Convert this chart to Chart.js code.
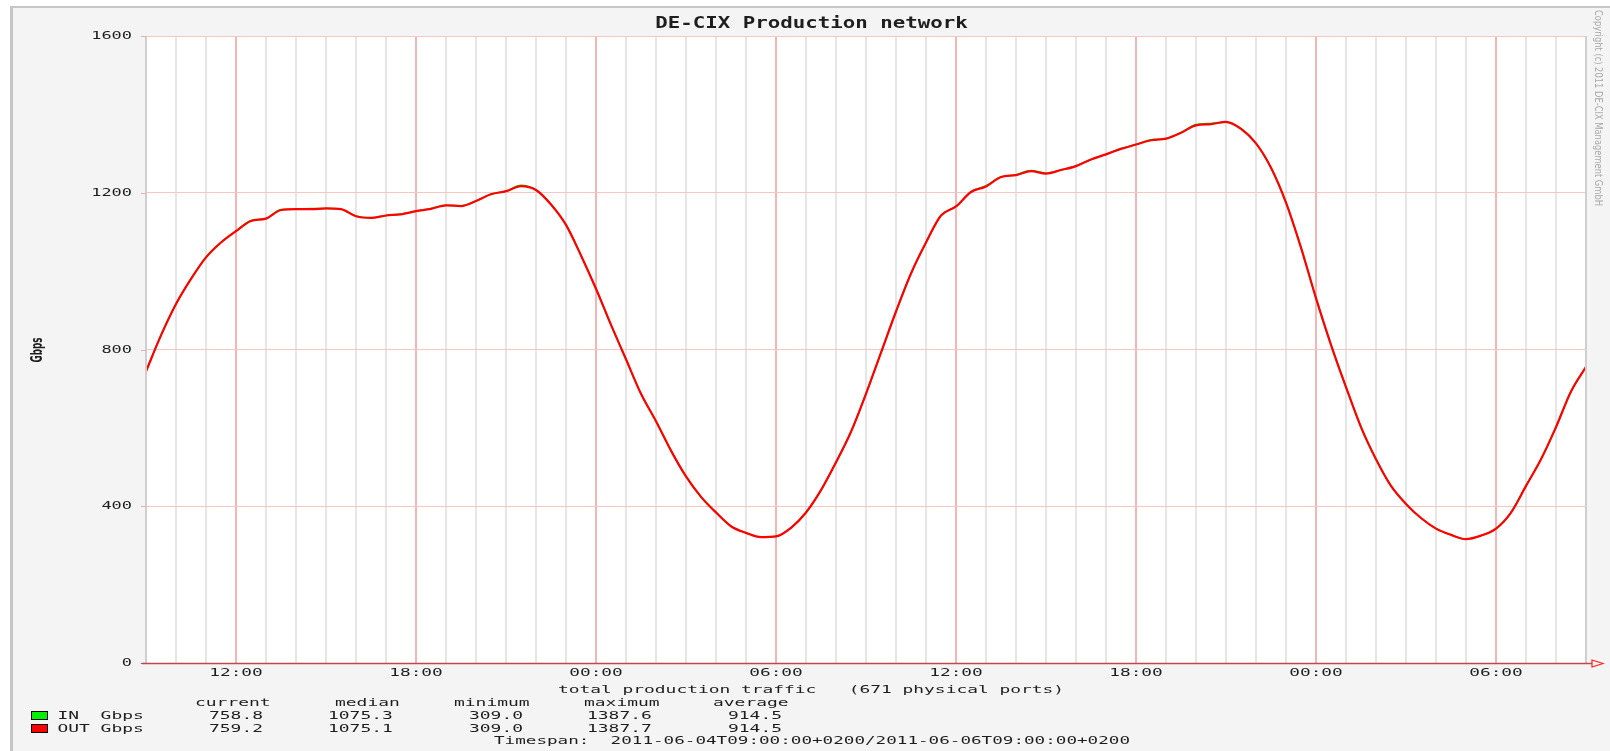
<!DOCTYPE html>
<html>
<head>
<meta charset="utf-8">
<script src="https://cdn.jsdelivr.net/npm/chart.js@4.4.1/dist/chart.umd.min.js"></script>
<style>
  html, body { margin: 0; padding: 0; background: #fff; }
  canvas { display: block; }
</style>
</head>
<body>
<canvas id="decix" width="1610" height="751"></canvas>
<script>
// DE-CIX total traffic, 2011-06-04 09:00 -> 2011-06-06 09:00, one sample every 30 min
const stepHours = 0.5;

const outGbps = [
  744, 836, 916, 980, 1035, 1073, 1102, 1128, 1134, 1156,
  1158, 1158, 1160, 1158, 1140, 1136, 1142, 1145, 1153, 1159,
  1168, 1166, 1179, 1196, 1204, 1217, 1207, 1170, 1118, 1040,
  955, 863, 775, 687, 617, 542, 476, 424, 384, 349,
  332, 321, 323, 345, 384, 441, 512, 590, 687, 792,
  897, 994, 1073, 1142, 1165, 1202, 1216, 1240, 1245, 1255,
  1249, 1258, 1268, 1285, 1298, 1312, 1323, 1334, 1338, 1353,
  1372, 1375, 1381, 1363, 1326, 1264, 1175, 1060, 931, 812,
  704, 602, 520, 452, 406, 370, 343, 327, 316, 325,
  343, 384, 452, 520, 602, 693, 756
];

const inGbps = [
  744, 837, 916, 980, 1036, 1073, 1102, 1129, 1134, 1157,
  1158, 1160, 1160, 1158, 1141, 1136, 1142, 1146, 1153, 1160,
  1168, 1167, 1179, 1197, 1204, 1219, 1207, 1171, 1118, 1040,
  955, 863, 775, 687, 617, 542, 476, 424, 385, 349,
  332, 321, 323, 345, 384, 441, 512, 590, 687, 792,
  897, 994, 1073, 1142, 1165, 1203, 1218, 1240, 1246, 1257,
  1250, 1258, 1269, 1285, 1298, 1313, 1323, 1335, 1338, 1354,
  1374, 1377, 1380, 1364, 1326, 1264, 1175, 1060, 931, 812,
  704, 602, 520, 452, 406, 370, 343, 327, 316, 325,
  343, 384, 452, 520, 602, 693, 755
];

// tick labels (hours after 09:00 on 06-04)
const xTickHours = [3, 9, 15, 21, 27, 33, 39, 45];
const xTickLabels = ['12:00', '18:00', '00:00', '06:00', '12:00', '18:00', '00:00', '06:00'];
const yTicks = [0, 400, 800, 1200, 1600];

// summary table under the chart
const statHeads = ['current', 'median', 'minimum', 'maximum', 'average'];
const statIn = ['758.8', '1075.3', '309.0', '1387.6', '914.5'];
const statOut = ['759.2', '1075.1', '309.0', '1387.7', '914.5'];

const sampleHours = outGbps.map((_, i) => i * stepHours);

// wide monospaced text like the old java graph renderer
function wideText(ctx, text, x, y, size, charW, opts) {
  opts = opts || {};
  ctx.save();
  ctx.font = (opts.bold ? 'bold ' : '') + size + 'px "DejaVu Sans Mono", monospace';
  const nat = ctx.measureText(text).width;
  const sx = (charW * text.length) / nat;
  ctx.translate(x, y);
  ctx.scale(sx, 1);
  ctx.fillStyle = opts.color || '#1e1e1e';
  ctx.textAlign = opts.align || 'left';
  ctx.textBaseline = 'middle';
  ctx.fillText(text, 0, 0);
  ctx.restore();
}

// rotated, squeezed sans text (axis title, copyright)
function sideText(ctx, text, x, y, angle, font, len, color, align) {
  ctx.save();
  ctx.translate(x, y);
  ctx.rotate(angle);
  ctx.font = font;
  const w = ctx.measureText(text).width;
  ctx.scale(len / w, 1);
  ctx.fillStyle = color;
  ctx.textAlign = align;
  ctx.textBaseline = 'middle';
  ctx.fillText(text, 0, 0);
  ctx.restore();
}

const decor = {
  id: 'decor',
  beforeDraw(chart) {
    const ctx = chart.ctx;
    const a = chart.chartArea;
    ctx.save();
    ctx.fillStyle = '#ffffff';
    ctx.fillRect(0, 0, chart.width, chart.height);
    ctx.fillStyle = '#f4f4f4';
    ctx.fillRect(10, 6, chart.width - 10, chart.height - 6);
    ctx.fillStyle = '#c6c6c6';
    ctx.fillRect(10, 6, chart.width - 10, 2);
    ctx.fillRect(10, 6, 3, chart.height - 6);
    ctx.fillStyle = '#ffffff';
    ctx.fillRect(a.left, a.top, a.right - a.left, a.bottom - a.top);
    ctx.restore();
  },
  afterDraw(chart) {
    const ctx = chart.ctx;
    const a = chart.chartArea;
    const xs = chart.scales.x, ys = chart.scales.y;
    ctx.save();

    // plot frame (left / right)
    ctx.strokeStyle = '#cfcfcf';
    ctx.lineWidth = 2;
    ctx.beginPath();
    ctx.moveTo(a.left, a.top); ctx.lineTo(a.left, a.bottom);
    ctx.moveTo(a.right, a.top); ctx.lineTo(a.right, a.bottom);
    ctx.stroke();

    // y ticks + labels
    yTicks.forEach(v => {
      const y = Math.round(ys.getPixelForValue(v)) + 0.5;
      ctx.strokeStyle = v === 0 ? '#b85050' : '#f2a8a8';
      ctx.lineWidth = 1;
      ctx.beginPath();
      ctx.moveTo(a.left - 5, y); ctx.lineTo(a.left, y);
      ctx.stroke();
      wideText(ctx, String(v), a.left - 14, y, 10, 10.2, { align: 'right' });
    });

    // x axis line with arrow
    const yb = Math.round(a.bottom) + 0.5;
    ctx.strokeStyle = '#c04848';
    ctx.lineWidth = 1.5;
    ctx.beginPath();
    ctx.moveTo(a.left - 4, yb); ctx.lineTo(a.right + 6, yb);
    ctx.stroke();
    ctx.strokeStyle = '#ff2020';
    ctx.lineWidth = 1.2;
    ctx.beginPath();
    ctx.moveTo(a.right + 6, yb - 3.5);
    ctx.lineTo(a.right + 17, yb);
    ctx.lineTo(a.right + 6, yb + 3.5);
    ctx.closePath();
    ctx.stroke();

    // x tick labels
    xTickHours.forEach((h, i) => {
      wideText(ctx, xTickLabels[i], xs.getPixelForValue(h), 673, 10.5, 10.7, { align: 'center' });
    });

    // title
    wideText(ctx, 'DE-CIX Production network', 811.5, 24, 15, 12.5, { align: 'center', bold: true });

    // y axis title
    sideText(ctx, 'Gbps', 38, 350, -Math.PI / 2, 'bold 16px "DejaVu Sans", sans-serif', 25, '#1e1e1e', 'center');

    // copyright, vertical on the right
    sideText(ctx, 'Copyright (c) 2011 DE-CIX Management GmbH', 1597.5, 10, Math.PI / 2,
      '11px "DejaVu Sans", sans-serif', 196, '#a8a8a8', 'left');

    // subtitle + stats table
    wideText(ctx, 'total production traffic   (671 physical ports)', 811, 690, 10.5, 10.77, { align: 'center' });

    const headX = [195, 335, 454, 584, 713];
    statHeads.forEach((t, i) => wideText(ctx, t, headX[i], 703, 10.5, 10.8));

    const valX = [209, 328, 469, 587, 728];
    [[statIn, 716, 'IN', '#00f000'], [statOut, 729, 'OUT', '#ff0000']].forEach(([vals, y, name, col]) => {
      ctx.fillStyle = col;
      ctx.fillRect(31, y - 5, 17, 9);
      ctx.strokeStyle = '#000';
      ctx.lineWidth = 1;
      ctx.strokeRect(31.5, y - 4.5, 16, 8);
      wideText(ctx, name, 57.4, y, 10.5, 10.8);
      wideText(ctx, 'Gbps', 100.6, y, 10.5, 10.8);
      vals.forEach((v, i) => wideText(ctx, v, valX[i], y, 10.5, 10.8));
    });

    wideText(ctx, 'Timespan:  2011-06-04T09:00:00+0200/2011-06-06T09:00:00+0200', 494, 741, 10.5, 10.6);

    ctx.restore();
  }
};

new Chart(document.getElementById('decix'), {
  type: 'line',
  data: {
    labels: sampleHours,
    datasets: [
      {
        label: 'IN Gbps',
        data: sampleHours.map((h, i) => ({ x: h, y: inGbps[i] })),
        borderColor: '#00e000',
        borderWidth: 1.5,
        pointRadius: 0,
        cubicInterpolationMode: 'monotone',
        order: 2
      },
      {
        label: 'OUT Gbps',
        data: sampleHours.map((h, i) => ({ x: h, y: outGbps[i] })),
        borderColor: '#ff0000',
        borderWidth: 2.2,
        pointRadius: 0,
        cubicInterpolationMode: 'monotone',
        order: 1
      }
    ]
  },
  options: {
    responsive: false,
    animation: false,
    devicePixelRatio: 1,
    layout: { padding: { left: 146, top: 36, right: 24, bottom: 88 } },
    plugins: {
      legend: { display: false },
      tooltip: { enabled: false },
      title: { display: false }
    },
    scales: {
      x: {
        type: 'linear',
        min: 0,
        max: 48,
        ticks: { display: false, stepSize: 1 },
        border: { display: false },
        grid: {
          drawTicks: false,
          lineWidth: 2,
          color: c => ((c.tick.value + 9) % 6 === 0) ? '#f6b4b4' : '#e6e6e6'
        }
      },
      y: {
        min: 0,
        max: 1600,
        ticks: { display: false, stepSize: 400 },
        border: { display: false },
        grid: {
          drawTicks: false,
          lineWidth: 1,
          color: '#f8c4c4'
        }
      }
    }
  },
  plugins: [decor]
});
</script>
</body>
</html>
